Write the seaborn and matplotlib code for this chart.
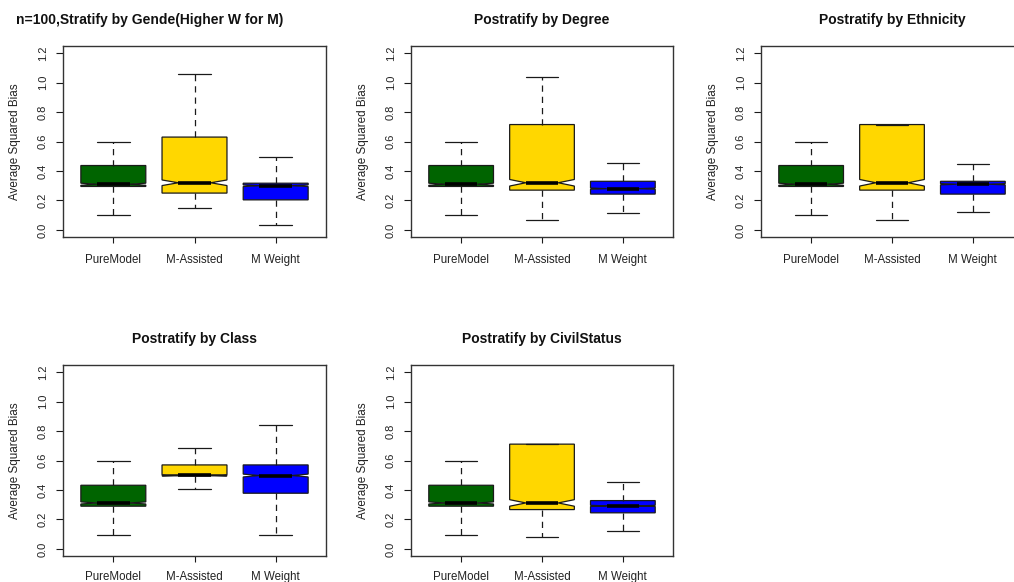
import numpy as np
import matplotlib
matplotlib.use("Agg")
import matplotlib.pyplot as plt
import seaborn as sns

# Estimators compared in every panel
methods = ["PureModel", "M-Assisted", "M Weight"]
titles = [
    "n=100,Stratify by Gende(Higher W for M)",
    "Postratify by Degree",
    "Postratify by Ethnicity",
    "Postratify by Class",
    "Postratify by CivilStatus",
]

# Box summaries of the average squared bias, one row per panel,
# one column per estimator (PureModel, M-Assisted, M Weight)
whisker_low = [
    [0.100, 0.152, 0.034],
    [0.100, 0.066, 0.118],
    [0.100, 0.066, 0.125],
    [0.097, 0.407, 0.097],
    [0.097, 0.084, 0.120],
]
lower_hinge = [
    [0.295, 0.250, 0.204],
    [0.295, 0.270, 0.243],
    [0.295, 0.270, 0.243],
    [0.290, 0.496, 0.378],
    [0.290, 0.267, 0.245],
]
median = [
    [0.310, 0.320, 0.300],
    [0.310, 0.320, 0.280],
    [0.310, 0.320, 0.310],
    [0.312, 0.500, 0.498],
    [0.312, 0.312, 0.292],
]
upper_hinge = [
    [0.437, 0.630, 0.317],
    [0.437, 0.715, 0.330],
    [0.437, 0.715, 0.330],
    [0.432, 0.570, 0.570],
    [0.432, 0.711, 0.328],
]
whisker_high = [
    [0.600, 1.058, 0.494],
    [0.600, 1.035, 0.455],
    [0.600, 0.715, 0.445],
    [0.595, 0.684, 0.838],
    [0.595, 0.711, 0.453],
]
n_sims = 1000  # replications behind each box (sets the notch width)

y_ticks = [0.0, 0.2, 0.4, 0.6, 0.8, 1.0, 1.2]
y_label = "Average Squared Bias"

sns.set_theme(style="white")
palette = sns.color_palette(["#006400", "#FFD700", "#0000FF"])
plt.rcParams["font.family"] = ["Liberation Sans", "DejaVu Sans"]

W, H = 1014, 582
fig = plt.figure(figsize=(W / 100, H / 100), dpi=100)
fig.patch.set_facecolor("white")

# panel rectangles in pixels: left, top, width, height
panel_px = [
    (63, 46, 263, 191),
    (411, 46, 262, 191),
    (761, 46, 262, 191),
    (63, 365, 263, 191),
    (411, 365, 262, 191),
]

edge = "#1a1a1a"
for i, (lx, ty, pw, ph) in enumerate(panel_px):
    ax = fig.add_axes([lx / W, 1 - (ty + ph) / H, pw / W, ph / H])
    stats = []
    for j, m in enumerate(methods):
        q1, q3, med = lower_hinge[i][j], upper_hinge[i][j], median[i][j]
        half = 1.58 * (q3 - q1) / np.sqrt(n_sims)
        stats.append(dict(whislo=whisker_low[i][j], q1=q1, med=med, q3=q3,
                          whishi=whisker_high[i][j], cilo=med - half,
                          cihi=med + half, fliers=[], label=m))
    bp = ax.bxp(stats, positions=[1, 2, 3], widths=0.8, capwidths=0.4,
                shownotches=True, patch_artist=True, showfliers=False,
                boxprops=dict(edgecolor=edge, linewidth=0.9),
                whiskerprops=dict(color=edge, linewidth=0.9,
                                  linestyle=(0, (5, 4))),
                capprops=dict(color=edge, linewidth=0.9),
                medianprops=dict(color="black", linewidth=2.6,
                                 solid_capstyle="butt"))
    for patch, c in zip(bp["boxes"], palette):
        patch.set_facecolor(c)

    ax.set_xlim(0.38, 3.62)
    ax.set_ylim(-0.048, 1.248)
    ax.set_yticks(y_ticks)
    ax.set_yticklabels([f"{v:.1f}" for v in y_ticks])
    ax.set_xticks([1, 2, 3])
    ax.set_xticklabels(methods)
    ax.tick_params(axis="y", which="major", left=True, length=5, width=0.8,
                   color=edge, pad=6, labelsize=8, labelcolor="#222222",
                   labelrotation=90)
    for lab in ax.get_yticklabels():
        lab.set_va("center")
    bottom_row = ty > 300
    ax.tick_params(axis="x", which="major", bottom=True, length=4.5,
                   width=0.8, color=edge, pad=6.5 if bottom_row else 8,
                   labelsize=8.3, labelcolor="#222222")
    for s in ax.spines.values():
        s.set_color("#333333")
        s.set_linewidth(1.0)
    ax.grid(False)
    ax.set_ylabel(y_label, fontsize=8.4, color="#222222")
    ax.yaxis.set_label_coords(-42 / pw, 0.5)

    if i == 0:
        fig.text(16 / W, 1 - 20 / H, titles[i], ha="left", va="center",
                 fontsize=10, fontweight="bold", color="#111111")
    else:
        ax.text(0.5, 1 + 26 / ph, titles[i], transform=ax.transAxes,
                ha="center", va="center", fontsize=10, fontweight="bold",
                color="#111111")

fig.savefig("out.png", dpi=100, facecolor="white")
